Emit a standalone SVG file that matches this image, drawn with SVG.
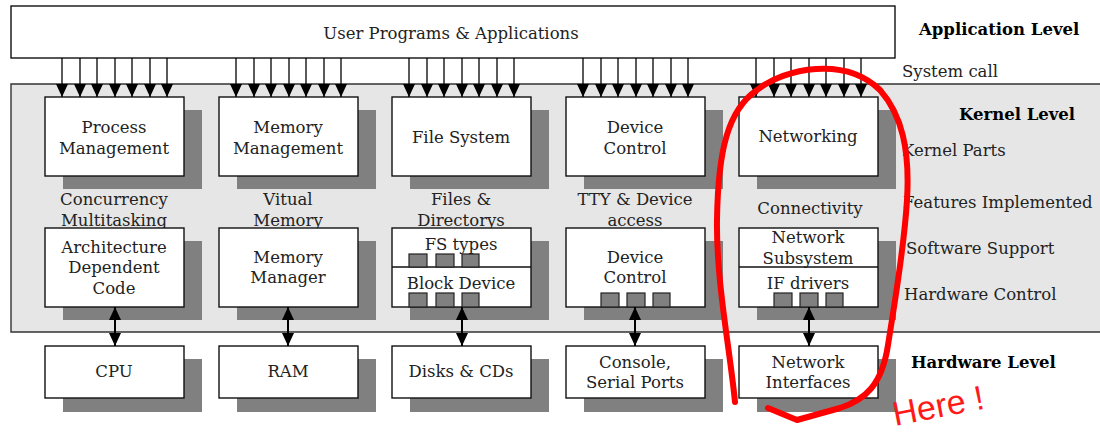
<svg xmlns="http://www.w3.org/2000/svg" width="1100" height="432" viewBox="0 0 1100 432">
  <style>
    .t { font-family: "DejaVu Serif", "Liberation Serif", serif; font-size: 16.5px; fill: #222; text-anchor: middle; }
    .side { font-family: "DejaVu Serif", "Liberation Serif", serif; font-size: 16.5px; fill: #222; }
    .lvl { font-family: "DejaVu Serif", "Liberation Serif", serif; font-size: 16.5px; font-weight: bold; fill: #000; }
    .box { fill: #fff; stroke: #111; stroke-width: 1.4; }
    .shd { fill: #808080; }
    .sq { fill: #808080; stroke: #222; stroke-width: 1.2; }
    .ln { stroke: #000; stroke-width: 1.3; fill: none; }
    .dbl { stroke: #000; stroke-width: 2; fill: none; }
  </style>
  <defs>
    <marker id="ah" viewBox="0 0 13 12" refX="13" refY="6" markerWidth="13" markerHeight="12" markerUnits="userSpaceOnUse" orient="auto-start-reverse">
      <path d="M0,0 L13,6 L0,12 z" fill="#000"/>
    </marker>
  </defs>

  <rect width="1100" height="432" fill="#fff"/>

  <!-- kernel band -->
  <g id="kernel-band">
    <rect x="11" y="84" width="1095" height="248" fill="#e6e6e6"/>
    <path d="M1100,84 H11 V332 H1100" fill="none" stroke="#333" stroke-width="1.4"/>
  </g>

  <!-- application layer -->
  <g id="user-programs">
    <rect class="box" x="11" y="6" width="884" height="52"/>
    <text class="t" x="451" y="39">User Programs &amp; Applications</text>
  </g>

  <!-- level and row captions -->
  <g id="captions">
    <text class="lvl" x="919" y="35">Application Level</text>
    <text class="side" x="902" y="77">System call</text>
    <text class="lvl" x="959" y="120">Kernel Level</text>
    <text class="side" x="902" y="156">Kernel Parts</text>
    <text class="side" x="903" y="208">Features Implemented</text>
    <text class="side" x="906" y="254">Software Support</text>
    <text class="side" x="904" y="300">Hardware Control</text>
    <text class="lvl" x="911" y="368">Hardware Level</text>
  </g>

  <!-- features implemented (partly hidden by the lower boxes) -->
  <g id="features">
    <text class="t" x="114" y="205">Concurrency</text>
    <text class="t" x="114" y="226">Multitasking</text>
    <text class="t" x="288" y="205">Vitual</text>
    <text class="t" x="288" y="226">Memory</text>
    <text class="t" x="461" y="205">Files &amp;</text>
    <text class="t" x="461" y="226">Directorys</text>
    <text class="t" x="635" y="205">TTY &amp; Device</text>
    <text class="t" x="635" y="226">access</text>
    <text class="t" x="810" y="214">Connectivity</text>
  </g>

  <!-- column 1 -->
  <g id="process-management">
    <rect class="shd" x="63" y="110" width="139" height="79"/>
    <rect class="box" x="45" y="97" width="139" height="79"/>
    <text class="t" x="114" y="133">Process</text>
    <text class="t" x="114" y="154">Management</text>
  </g>
  <g id="arch-code">
    <rect class="shd" x="63" y="241" width="139" height="79"/>
    <rect class="box" x="45" y="228" width="139" height="79"/>
    <text class="t" x="114" y="253">Architecture</text>
    <text class="t" x="114" y="273">Dependent</text>
    <text class="t" x="114" y="294">Code</text>
  </g>
  <g id="cpu">
    <rect class="shd" x="63" y="359" width="139" height="53"/>
    <rect class="box" x="45" y="346" width="139" height="52"/>
    <text class="t" x="114" y="377">CPU</text>
  </g>

  <!-- column 2 -->
  <g id="memory-management">
    <rect class="shd" x="237" y="110" width="139" height="79"/>
    <rect class="box" x="219" y="97" width="139" height="79"/>
    <text class="t" x="288" y="133">Memory</text>
    <text class="t" x="288" y="154">Management</text>
  </g>
  <g id="memory-manager">
    <rect class="shd" x="237" y="241" width="139" height="79"/>
    <rect class="box" x="219" y="228" width="139" height="79"/>
    <text class="t" x="288" y="263">Memory</text>
    <text class="t" x="288" y="283">Manager</text>
  </g>
  <g id="ram">
    <rect class="shd" x="237" y="359" width="139" height="53"/>
    <rect class="box" x="219" y="346" width="139" height="52"/>
    <text class="t" x="288" y="377">RAM</text>
  </g>

  <!-- column 3 -->
  <g id="file-system">
    <rect class="shd" x="410" y="110" width="139" height="79"/>
    <rect class="box" x="392" y="97" width="139" height="79"/>
    <text class="t" x="461" y="143">File System</text>
  </g>
  <g id="fs-block">
    <rect class="shd" x="410" y="241" width="139" height="79"/>
    <rect class="box" x="392" y="228" width="139" height="79"/>
    <line x1="392" y1="267" x2="531" y2="267" stroke="#111" stroke-width="1.4"/>
    <text class="t" x="461" y="250">FS types</text>
    <rect class="sq" x="409" y="254" width="18" height="13"/>
    <rect class="sq" x="436" y="254" width="18" height="13"/>
    <rect class="sq" x="462" y="254" width="17" height="13"/>
    <text class="t" x="461" y="289">Block Device</text>
    <rect class="sq" x="409" y="293" width="18" height="14"/>
    <rect class="sq" x="436" y="293" width="18" height="14"/>
    <rect class="sq" x="462" y="293" width="17" height="14"/>
  </g>
  <g id="disks">
    <rect class="shd" x="410" y="359" width="139" height="53"/>
    <rect class="box" x="392" y="346" width="139" height="52"/>
    <text class="t" x="461" y="377">Disks &amp; CDs</text>
  </g>

  <!-- column 4 -->
  <g id="device-control-top">
    <rect class="shd" x="584" y="110" width="139" height="79"/>
    <rect class="box" x="566" y="97" width="139" height="79"/>
    <text class="t" x="635" y="133">Device</text>
    <text class="t" x="635" y="154">Control</text>
  </g>
  <g id="device-control">
    <rect class="shd" x="584" y="241" width="139" height="79"/>
    <rect class="box" x="566" y="228" width="139" height="79"/>
    <text class="t" x="635" y="263">Device</text>
    <text class="t" x="635" y="283">Control</text>
    <rect class="sq" x="601" y="293" width="18" height="14"/>
    <rect class="sq" x="627" y="293" width="18" height="14"/>
    <rect class="sq" x="653" y="293" width="17" height="14"/>
  </g>
  <g id="console">
    <rect class="shd" x="584" y="359" width="139" height="53"/>
    <rect class="box" x="566" y="346" width="139" height="52"/>
    <text class="t" x="635" y="368">Console,</text>
    <text class="t" x="635" y="388">Serial Ports</text>
  </g>

  <!-- column 5 -->
  <g id="networking">
    <rect class="shd" x="757" y="110" width="139" height="79"/>
    <rect class="box" x="739" y="97" width="139" height="79"/>
    <text class="t" x="808" y="142">Networking</text>
  </g>
  <g id="net-subsystem">
    <rect class="shd" x="757" y="241" width="139" height="79"/>
    <rect class="box" x="739" y="228" width="139" height="79"/>
    <line x1="739" y1="267" x2="878" y2="267" stroke="#111" stroke-width="1.4"/>
    <text class="t" x="808" y="243">Network</text>
    <text class="t" x="808" y="264">Subsystem</text>
    <text class="t" x="808" y="289">IF drivers</text>
    <rect class="sq" x="774" y="293" width="18" height="14"/>
    <rect class="sq" x="800" y="293" width="18" height="14"/>
    <rect class="sq" x="826" y="293" width="17" height="14"/>
  </g>
  <g id="net-interfaces">
    <rect class="shd" x="757" y="359" width="139" height="53"/>
    <rect class="box" x="739" y="346" width="139" height="52"/>
    <text class="t" x="808" y="368">Network</text>
    <text class="t" x="808" y="388">Interfaces</text>
  </g>

  <!-- system-call arrows and hardware links -->
  <g id="connectors">
    <g class="ln" marker-end="url(#ah)">
      <line x1="62" y1="58" x2="62" y2="97"/><line x1="80" y1="58" x2="80" y2="97"/>
      <line x1="97" y1="58" x2="97" y2="97"/><line x1="115" y1="58" x2="115" y2="97"/>
      <line x1="132" y1="58" x2="132" y2="97"/><line x1="150" y1="58" x2="150" y2="97"/>
      <line x1="167" y1="58" x2="167" y2="97"/>

      <line x1="236" y1="58" x2="236" y2="97"/><line x1="254" y1="58" x2="254" y2="97"/>
      <line x1="271" y1="58" x2="271" y2="97"/><line x1="289" y1="58" x2="289" y2="97"/>
      <line x1="306" y1="58" x2="306" y2="97"/><line x1="324" y1="58" x2="324" y2="97"/>
      <line x1="341" y1="58" x2="341" y2="97"/>

      <line x1="409" y1="58" x2="409" y2="97"/><line x1="427" y1="58" x2="427" y2="97"/>
      <line x1="444" y1="58" x2="444" y2="97"/><line x1="462" y1="58" x2="462" y2="97"/>
      <line x1="479" y1="58" x2="479" y2="97"/><line x1="497" y1="58" x2="497" y2="97"/>
      <line x1="514" y1="58" x2="514" y2="97"/>

      <line x1="583" y1="58" x2="583" y2="97"/><line x1="601" y1="58" x2="601" y2="97"/>
      <line x1="618" y1="58" x2="618" y2="97"/><line x1="636" y1="58" x2="636" y2="97"/>
      <line x1="653" y1="58" x2="653" y2="97"/><line x1="671" y1="58" x2="671" y2="97"/>
      <line x1="688" y1="58" x2="688" y2="97"/>

      <line x1="756" y1="58" x2="756" y2="97"/><line x1="774" y1="58" x2="774" y2="97"/>
      <line x1="791" y1="58" x2="791" y2="97"/><line x1="809" y1="58" x2="809" y2="97"/>
      <line x1="826" y1="58" x2="826" y2="97"/><line x1="844" y1="58" x2="844" y2="97"/>
      <line x1="861" y1="58" x2="861" y2="97"/>
    </g>
    <g class="dbl" marker-start="url(#ah)" marker-end="url(#ah)">
      <line x1="115" y1="307" x2="115" y2="346"/>
      <line x1="288" y1="307" x2="288" y2="346"/>
      <line x1="462" y1="307" x2="462" y2="346"/>
      <line x1="635" y1="307" x2="635" y2="346"/>
      <line x1="809" y1="307" x2="809" y2="346"/>
    </g>
  </g>

  <!-- hand-drawn highlight -->
  <g id="highlight">
    <path d="M735,402 C730,350 716,280 717,220 C718,150 728,110 757,90 C785,68 845,56 880,90 C902,115 910,150 907,200 C904,250 895,300 888,345 C882,385 865,400 840,408 L797,420 L768,408" fill="none" stroke="#ff0000" stroke-width="6" stroke-linecap="round" stroke-linejoin="round"/>
    <text x="895" y="426" transform="rotate(-11 895 426)" font-family="Liberation Sans, Arial, sans-serif" font-size="34" fill="#ff1a1a">Here !</text>
  </g>
</svg>
